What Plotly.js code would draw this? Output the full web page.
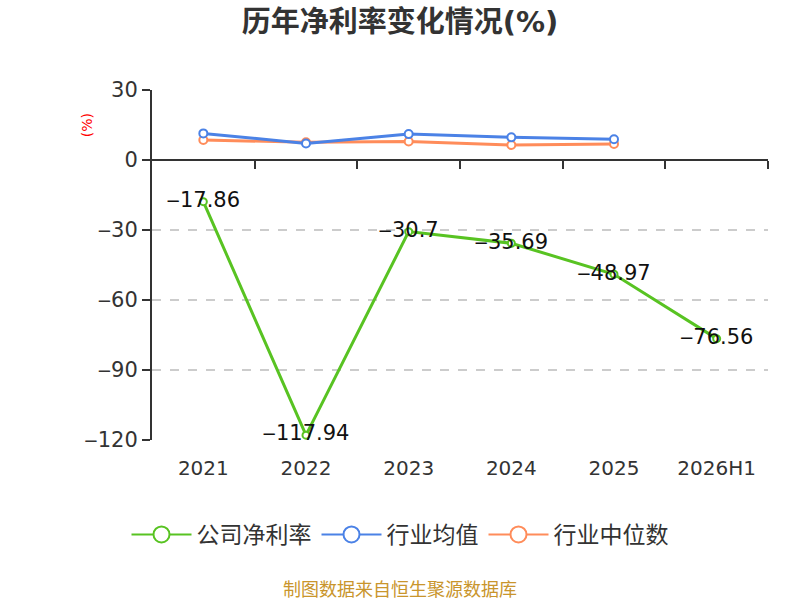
<!DOCTYPE html>
<html>
<head>
<meta charset="utf-8">
<script src="https://cdn.plot.ly/plotly-3.0.1.min.js"></script>
<style>
  html, body { margin: 0; padding: 0; background: #fff; }
  #chart { width: 800px; height: 600px; }
</style>
</head>
<body>
<div id="chart"></div>
<script>
const years = ['2021', '2022', '2023', '2024', '2025', '2026H1'];
const companyRate = [-17.86, -117.94, -30.7, -35.69, -48.97, -76.56];
const industryMean = [11.4, 7.1, 11.1, 9.7, 8.9];
const industryMedian = [8.6, 7.6, 7.9, 6.4, 6.9];
const seriesNames = ['公司净利率', '行业均值', '行业中位数'];
const yTicks = [30, 0, -30, -60, -90, -120];

const FONT = '"DejaVu Sans", "Noto Sans CJK SC", sans-serif';
const CJK = '"Noto Sans CJK SC", sans-serif';
const GREEN = '#58c322';
const BLUE = '#4b82e6';
const ORANGE = '#ff8c5a';

// figure dash keeps the minus as wide as a digit
const fmt = v => String(v).replace('-', '\u2012');

const lineTrace = (y, name, color, extra) => Object.assign({
    type: 'scatter',
    mode: 'lines+markers',
    x: years.slice(0, y.length),
    y: y,
    name: name,
    showlegend: false,
    line: { color: color, width: 3 },
    marker: { symbol: 'circle', size: 8, color: '#fff', line: { color: color, width: 2 } },
    hoverinfo: 'skip',
}, extra || {});

// legend-only traces, so the legend circles can be drawn larger
const legendTrace = (name, color) => ({
    type: 'scatter',
    mode: 'lines+markers',
    x: [null],
    y: [null],
    name: name,
    line: { color: color, width: 2 },
    marker: { symbol: 'circle', size: 18, color: '#fff', line: { color: color, width: 2 } },
});

const traces = [
    lineTrace(industryMedian, seriesNames[2], ORANGE),
    lineTrace(industryMean, seriesNames[1], BLUE),
    lineTrace(companyRate, seriesNames[0], GREEN, {
        mode: 'lines+markers+text',
        text: companyRate.map(fmt),
        textposition: 'middle center',
        textfont: { family: FONT, size: 21, color: '#111' },
        marker: { symbol: 'circle', size: 7, color: '#fff', line: { color: GREEN, width: 2 } },
    }),
    legendTrace(seriesNames[0], GREEN),
    legendTrace(seriesNames[1], BLUE),
    legendTrace(seriesNames[2], ORANGE),
    // carrier for the axis drawn along zero
    { type: 'scatter', x: [null], y: [null], xaxis: 'x2', showlegend: false, hoverinfo: 'skip' },
];

const layout = {
    width: 800,
    height: 600,
    margin: { l: 152, r: 32, t: 90, b: 160, autoexpand: false },
    paper_bgcolor: '#fff',
    plot_bgcolor: '#fff',
    font: { family: FONT, color: '#333' },
    title: {
        text: '<b>历年净利率变化情况(%)</b>',
        xref: 'paper',
        x: 0.4026,
        xanchor: 'center',
        y: 0.963,
        yanchor: 'middle',
        font: { family: FONT, size: 29, color: '#333' },
    },
    xaxis: {
        type: 'category',
        categoryorder: 'array',
        categoryarray: years,
        range: [-0.5, 5.5],
        showline: false,
        showgrid: false,
        zeroline: false,
        ticks: '',
        tickangle: 0,
        ticklabelstandoff: 14,
        tickfont: { family: FONT, size: 20, color: '#333' },
        fixedrange: true,
    },
    xaxis2: {
        overlaying: 'x',
        anchor: 'free',
        position: 0.8,
        range: [-0.5, 5.5],
        tickvals: [0.5, 1.5, 2.5, 3.5, 4.5, 5.5],
        showticklabels: false,
        showline: true,
        linecolor: '#333',
        linewidth: 2,
        ticks: 'outside',
        ticklen: 8,
        tickwidth: 2,
        tickcolor: '#333',
        showgrid: false,
        zeroline: false,
    },
    yaxis: {
        range: [-120, 30],
        tickvals: yTicks,
        ticktext: yTicks.map(fmt),
        showline: true,
        linecolor: '#333',
        linewidth: 2,
        ticks: 'outside',
        ticklen: 8,
        tickwidth: 2,
        tickcolor: '#333',
        showgrid: true,
        gridcolor: '#cccccc',
        griddash: 'dash',
        gridwidth: 1.5,
        zeroline: false,
        tickfont: { family: FONT, size: 21, color: '#333' },
        fixedrange: true,
    },
    legend: {
        orientation: 'h',
        xref: 'container',
        x: 0.5,
        xanchor: 'center',
        y: -0.27,
        yanchor: 'middle',
        font: { family: CJK, size: 23, color: '#333' },
        itemwidth: 60,
        tracegroupgap: 0,
    },
    annotations: [
        {
            text: '(%)',
            textangle: -90,
            xref: 'paper', yref: 'paper',
            x: -0.105, y: 0.9,
            xanchor: 'center', yanchor: 'middle',
            showarrow: false,
            font: { family: FONT, size: 14, color: '#ff0000' },
        },
        {
            text: '制图数据来自恒生聚源数据库',
            xref: 'paper', yref: 'paper',
            x: 0.4026, y: -0.423,
            xanchor: 'center', yanchor: 'middle',
            showarrow: false,
            font: { family: CJK, size: 18, color: '#c9952c' },
        },
    ],
    showlegend: true,
};

Plotly.newPlot('chart', traces, layout, { displayModeBar: false, staticPlot: true });
</script>
</body>
</html>
